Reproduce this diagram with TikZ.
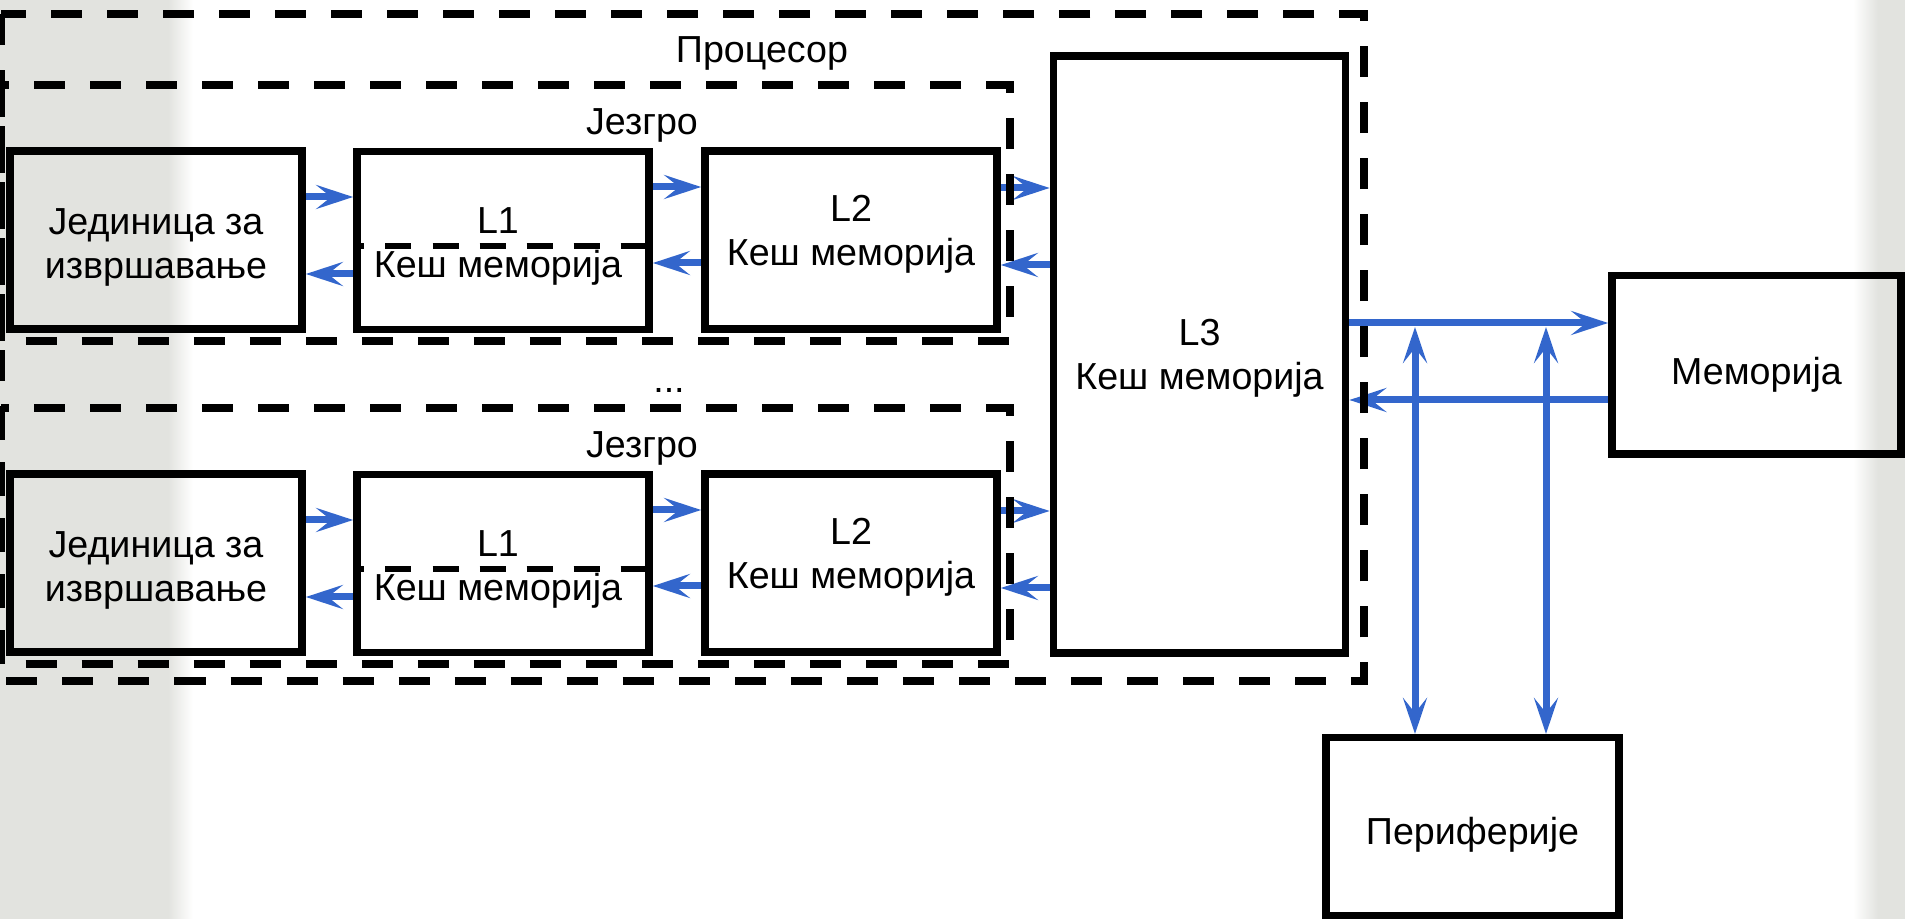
\documentclass[tikz,border=0pt]{standalone}
\usepackage{fontspec}
\setmainfont{Liberation Sans}
\usetikzlibrary{arrows.meta}

\definecolor{flowblue}{HTML}{3366CC}
\definecolor{slidegray}{HTML}{E2E3DF}

\tikzset{
    box/.style={draw, line width=0.075cm, minimum width=2.92cm, minimum height=1.78cm},
    tag/.style={align=center},
    dashbox/.style={line width=0.08cm, dash pattern=on 0.31cm off 0.25cm},
    split/.style={line width=0.065cm, dash pattern=on 0.26cm off 0.21cm, dash phase=0.147cm},
    flow/.style={draw=flowblue, line width=0.07cm, -{Stealth[length=0.37cm, width=0.24cm, inset=0.15cm]}},
    bus/.style={flow, {Stealth[length=0.36cm, width=0.24cm, inset=0.15cm]}-{Stealth[length=0.36cm, width=0.24cm, inset=0.15cm]}},
    title/.style={anchor=base}
}

\begin{document}
\begin{tikzpicture}[x=0.01cm, y=-0.01cm, font=\fontsize{10.7}{12.5}\selectfont]

    \useasboundingbox (0,0) rectangle (1905,919);
    \fill[slidegray] (0,0) rectangle (168,919);
    \shade[left color=slidegray, right color=white] (168,0) rectangle (193,919);
    \shade[left color=white, right color=slidegray] (1853,0) rectangle (1878,919);
    \fill[slidegray] (1878,0) rectangle (1905,919);

    \node[title] (cpu) at (762,63) {Процесор};
    \node[box, minimum height=5.97cm] (l3) at (1199.5,354.5) {};
    \node[tag, yshift=-0.04cm] (l3text) at (l3) {L3\\Кеш меморија};
    \node[box, minimum width=2.89cm] (mem) at (1756.5,364.75) {};
    \node[tag, yshift=-0.10cm] (memtext) at (mem) {Меморија};
    \node[box, minimum width=2.93cm] (per) at (1472.5,826.75) {};
    \node[tag, yshift=-0.08cm] (pertext) at (per) {Периферије};
    \node[title] (more) at (669,393) {...};

    \foreach \i/\y in {1/0, 2/323} {
        \node[title] (core\i) at (642,135+\y) {Језгро};
        \node[box] (eu\i) at (156,240+\y) {};
        \node[tag, yshift=-0.07cm] (eutext\i) at (eu\i) {Јединица за\\извршавање};
        \node[box] (lone\i) at (503,240.5+\y) {};
        \node[tag, xshift=-0.05cm, yshift=-0.06cm] (lonetext\i) at (lone\i) {L1\\Кеш меморија};
        \node[box] (ltwo\i) at (851,240+\y) {};
        \node[tag, yshift=0.06cm] (ltwotext\i) at (ltwo\i) {L2\\Кеш меморија};
        \draw[split] (lone\i.west |- 0,246+\y) -- (lone\i.east |- 0,246+\y);

        \draw[flow] (eu\i.east |- 0,197+\y) -- (lone\i.west |- 0,197+\y);
        \draw[flow] (lone\i.west |- 0,274+\y) -- (eu\i.east |- 0,274+\y);
        \draw[flow] (lone\i.east |- 0,187+\y) -- (ltwo\i.west |- 0,187+\y);
        \draw[flow] (ltwo\i.west |- 0,263+\y) -- (lone\i.east |- 0,263+\y);
        \draw[flow] (ltwo\i.east |- 0,188+\y) -- (l3.west |- 0,188+\y);
        \draw[flow] (l3.west |- 0,265+\y) -- (ltwo\i.east |- 0,265+\y);

        \draw[dashbox] (1,85.5+\y) rectangle (1010,341+\y);
    }

    \draw[flow] (l3.east |- 0,323) -- (mem.west |- 0,323);
    \draw[flow] (mem.west |- 0,400) -- (l3.east |- 0,400);
    \coordinate (tapa) at (1415,327);
    \coordinate (tapb) at (1546,327);
    \draw[bus] (per.north -| tapa) -- (tapa);
    \draw[bus] (per.north -| tapb) -- (tapb);

    \draw[dashbox] (1,14) rectangle (1363.5,681);

\end{tikzpicture}
\end{document}
